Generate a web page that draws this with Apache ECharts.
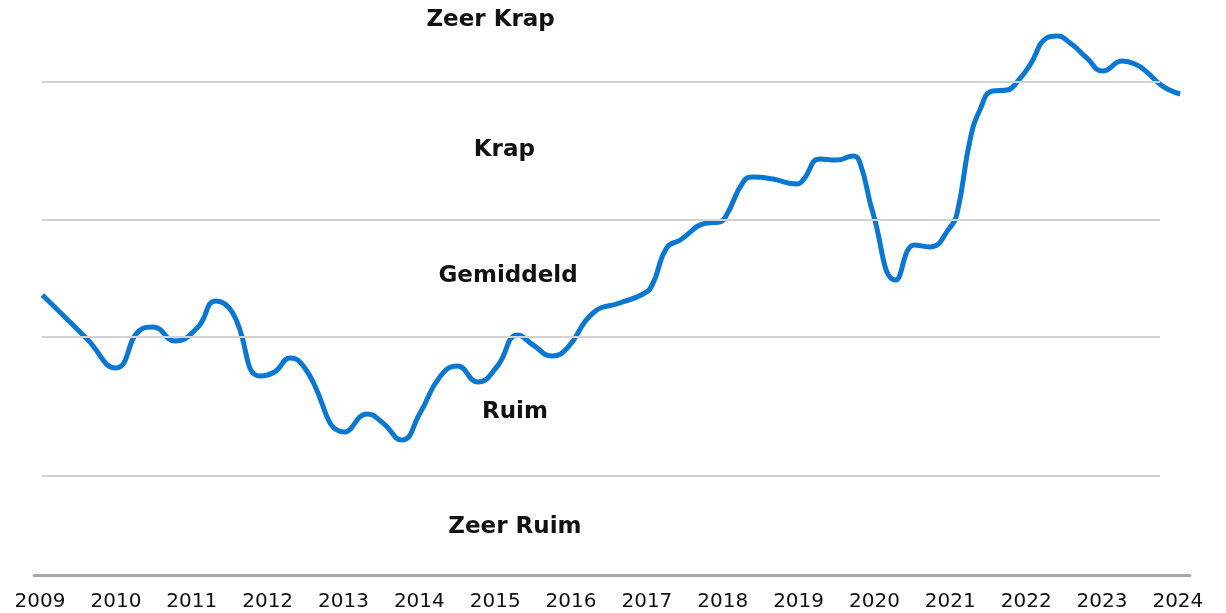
<!DOCTYPE html>
<html>
<head>
<meta charset="utf-8">
<script src="https://cdn.jsdelivr.net/npm/echarts@6/dist/echarts.min.js"></script>
<style>
  html, body { margin: 0; padding: 0; background: #fff; }
  #chart { width: 1226px; height: 613px; }
</style>
</head>
<body>
<div id="chart"></div>
<script>
// krapte-indicator (geen schaal zichtbaar, index 0-575)
const years = [2009, 2010, 2011, 2012, 2013, 2014, 2015, 2016, 2017, 2018, 2019, 2020, 2021, 2022, 2023, 2024]
const tension = [
  [2009.03, 280], [2009.26, 263], [2009.62, 236], [2010.0, 207],
  [2010.32, 245], [2010.49, 248], [2010.78, 234], [2011.07, 247], [2011.32, 274],
  [2011.54, 262], [2011.90, 199], [2012.09, 203], [2012.30, 217],
  [2012.49, 207], [2013.02, 143], [2013.31, 161], [2013.52, 152],
  [2013.77, 135], [2014.01, 162], [2014.27, 198], [2014.50, 209], [2014.77, 193],
  [2015.02, 208], [2015.30, 240], [2015.50, 230], [2015.75, 219], [2015.95, 227],
  [2016.29, 262], [2016.64, 272], [2016.95, 281], [2017.07, 290], [2017.26, 327],
  [2017.44, 335], [2017.79, 352], [2017.96, 353], [2018.05, 360], [2018.27, 393],
  [2018.40, 398], [2018.66, 396], [2018.98, 391], [2019.06, 395], [2019.28, 416],
  [2019.50, 415], [2019.72, 419], [2019.81, 412], [2019.98, 362],
  [2020.28, 295], [2020.53, 330], [2020.73, 328], [2020.99, 347],
  [2021.09, 362], [2021.26, 435], [2021.39, 465], [2021.56, 484], [2021.75, 485],
  [2021.88, 493], [2022.05, 510], [2022.27, 537], [2022.40, 539], [2022.58, 532],
  [2022.80, 517], [2023.01, 504], [2023.27, 514], [2023.46, 510], [2023.59, 503],
  [2023.76, 491], [2023.89, 485], [2024.03, 481]
]
// grenzen tussen de zones
const boundaries = [99, 238, 355, 493]
const zoneNames = ['Zeer Krap', 'Krap', 'Gemiddeld', 'Ruim', 'Zeer Ruim']
const zoneLabelPos = [[2014.94, 555], [2015.12, 425], [2015.17, 299], [2015.26, 163], [2015.26, 48]]

const chart = echarts.init(document.getElementById('chart'))

chart.setOption({
  animation: false,
  grid: [
    { left: 34, right: 36, top: 0, bottom: 38 },
    { left: 42, right: 66, top: 0, bottom: 38 }
  ],
  xAxis: [
    {
      type: 'value',
      gridIndex: 0,
      min: 2008.92,
      max: 2024.16,
      splitLine: { show: false },
      axisLine: { show: true, lineStyle: { color: '#a8a8a8', width: 3 } },
      axisTick: { show: false, customValues: years },
      axisLabel: {
        customValues: years,
        formatter: v => String(v),
        color: '#111',
        fontSize: 20,
        fontFamily: 'DejaVu Sans',
        margin: 17
      }
    },
    { type: 'value', gridIndex: 1, min: 0, max: 1, show: false }
  ],
  yAxis: [
    { type: 'value', gridIndex: 0, min: 0, max: 575, show: false },
    { type: 'value', gridIndex: 1, min: 0, max: 575, show: false }
  ],
  series: [
    {
      type: 'line',
      xAxisIndex: 1,
      yAxisIndex: 1,
      data: [],
      silent: true,
      z: 1,
      markLine: {
        silent: true,
        symbol: 'none',
        label: { show: false },
        lineStyle: { color: '#d2d2d2', width: 2, type: 'solid' },
        data: boundaries.map(b => ({ yAxis: b }))
      }
    },
    {
      type: 'line',
      data: tension,
      smooth: 0.5,
      showSymbol: false,
      z: 3,
      lineStyle: { color: '#0a78d2', width: 5 }
    },
    {
      type: 'scatter',
      symbolSize: 0,
      silent: true,
      z: 4,
      itemStyle: { opacity: 1 },
      data: zoneNames.map((n, i) => ({ name: n, value: zoneLabelPos[i] })),
      label: {
        show: true,
        position: 'inside',
        formatter: p => p.name,
        color: '#111',
        opacity: 1,
        fontSize: 23,
        fontWeight: 'bold',
        fontFamily: 'DejaVu Sans'
      }
    }
  ]
})
</script>
</body>
</html>
